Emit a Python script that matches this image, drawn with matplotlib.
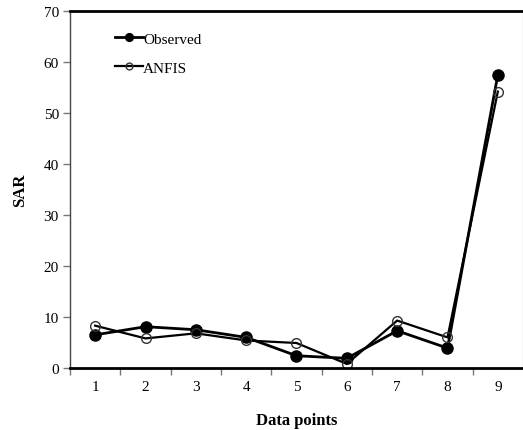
import matplotlib
matplotlib.use('Agg')
import matplotlib.pyplot as plt

# Data
points = [1, 2, 3, 4, 5, 6, 7, 8, 9]
observed = [6.5, 8.1, 7.5, 6.0, 2.4, 1.9, 7.3, 3.9, 57.5]
anfis = [8.3, 5.8, 6.8, 5.4, 4.9, 0.8, 9.3, 6.0, 54.2]

plt.rcParams['font.family'] = ['Liberation Serif', 'DejaVu Serif']

fig = plt.figure(figsize=(5.23, 4.31), dpi=100)
ax = fig.add_axes([70 / 523, 1 - 369 / 431, 453 / 523, 357 / 431])

ax.plot(points, observed, color='black', linewidth=2, marker='o', markersize=8,
        markerfacecolor='black', markeredgecolor='black', label='Observed')
ax.plot(points, anfis, color='black', linewidth=1.6, marker='o', markersize=7,
        markerfacecolor='none', markeredgecolor='#333333', markeredgewidth=1, label='ANFIS')

ax.set_xlim(0.5, 9.5)
ax.set_ylim(0, 70)
ax.set_yticks(range(0, 71, 10))
ax.set_xticks(points)
ax.set_xticks([p + 0.5 for p in range(0, 9)], minor=True)
ax.tick_params(axis='x', which='major', length=0, labelsize=11, pad=9)
ax.tick_params(axis='x', which='minor', length=5, color='#777777', width=1)
ax.tick_params(axis='y', length=5, color='#777777', width=1, labelsize=11, pad=3)

ax.spines['top'].set_linewidth(2)
ax.spines['bottom'].set_linewidth(2)
ax.spines['left'].set_color('#444444')
ax.spines['left'].set_linewidth(1)
ax.spines['right'].set_color('#dddddd')
ax.spines['right'].set_linewidth(1)

ax.set_xlabel('Data points', fontsize=12, fontweight='bold', labelpad=13)
ax.set_ylabel('SAR', fontsize=12, fontweight='bold', labelpad=11)

ax.legend(loc='upper left', bbox_to_anchor=(0.07, 0.98), frameon=False, fontsize=11,
          handlelength=1.8, handletextpad=0.0, labelspacing=1.0, markerscale=0.7)

fig.savefig('out.png', dpi=100)
